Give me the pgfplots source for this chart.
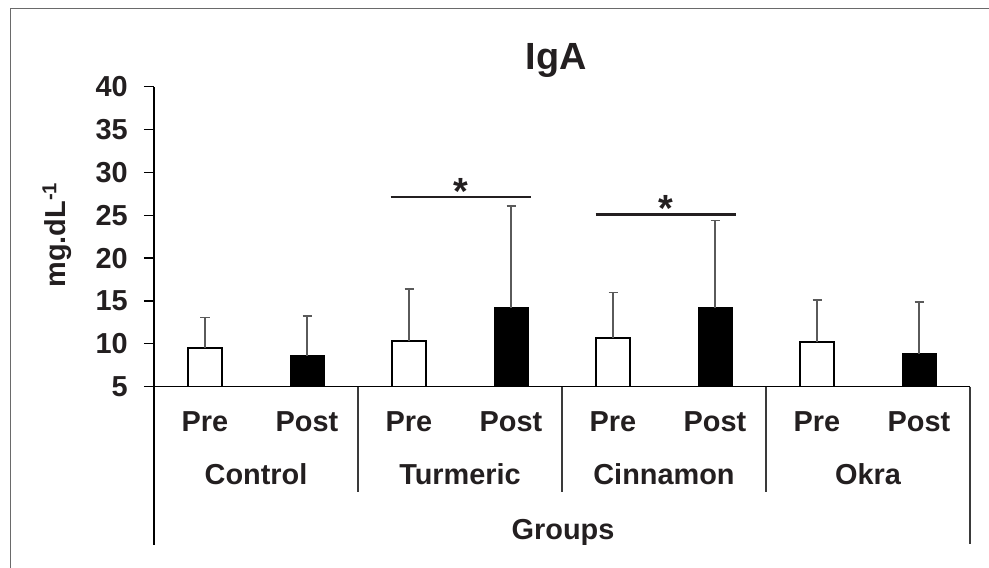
\documentclass[border=0pt]{standalone}
\usepackage{pgfplots}
\pgfplotsset{compat=1.18}
\usepackage{fontspec}
\setmainfont{Liberation Sans}
\definecolor{txt}{HTML}{231F20}
\definecolor{errc}{HTML}{5A5A5A}
\definecolor{sepc}{HTML}{3A3A3A}
\definecolor{framec}{HTML}{6A6A6A}
\newcommand{\lbl}{\fontsize{29}{32}\selectfont\bfseries}
\begin{document}
\begin{tikzpicture}[x=1bp,y=1bp]
\useasboundingbox (-154,-181.3) rectangle (835,386.7);
% outer frame
\draw[framec, line width=1.5bp] (-143.3,-181.3) -- (-143.3,378.4) -- (835,378.4);
\begin{axis}[
  at={(0,0)}, anchor=south west, scale only axis,
  width=816bp, height=300bp,
  xmin=0, xmax=8, ymin=5, ymax=40,
  axis y line*=left, axis x line*=bottom,
  axis line style={-, black, line width=1.3bp},
  xtick=\empty, ytick={5,10,...,40},
  tick align=outside, major tick length=10bp,
  tick style={black, line width=1.3bp},
  /pgf/number format/assume math mode=true,
  yticklabel style={font=\lbl, text=txt, anchor=east, inner sep=0pt, xshift=-16bp},
  ybar, bar width=34bp, bar shift=0pt,
  error bars/y dir=plus, error bars/y explicit,
  error bars/error bar style={errc, line width=1.6bp},
  error bars/error mark options={rotate=90, mark size=4.5bp, line width=1.6bp, errc},
]
% Pre
\addplot[draw=black, fill=white, line width=2.2bp] coordinates {
  (0.5,9.48) +- (0,3.57)
  (2.5,10.30) +- (0,6.10)
  (4.5,10.65) +- (0,5.36)
  (6.5,10.25) +- (0,4.83)
};
% Post
\addplot[draw=black, fill=black, line width=1bp] coordinates {
  (1.5,8.62) +- (0,4.66)
  (3.5,14.22) +- (0,11.86)
  (5.5,14.22) +- (0,10.19)
  (7.5,8.82) +- (0,6.06)
};
% significance bars
\draw[txt, line width=2.7bp] (axis cs:2.32,27.13) -- (axis cs:3.70,27.13);
\node[anchor=base, font=\fontsize{38}{40}\selectfont\bfseries, text=txt, inner sep=0pt, yshift=-7bp] at (axis cs:3.01,27.13) {*};
\draw[txt, line width=2.7bp] (axis cs:4.33,25.11) -- (axis cs:5.71,25.11);
\node[anchor=base, font=\fontsize{38}{40}\selectfont\bfseries, text=txt, inner sep=0pt, yshift=-7bp] at (axis cs:5.02,25.11) {*};
\end{axis}
% category axis extensions
\draw[black, line width=1.3bp] (0,0) -- (0,-158.3);
\draw[sepc, line width=1.3bp] (816,0) -- (816,-157.3);
\foreach \xx in {204,408,612}{
  \draw[sepc, line width=1.3bp] (\xx,0) -- (\xx,-105);
}
\foreach \xx/\t in {51/Pre,153/Post,255/Pre,357/Post,459/Pre,561/Post,663/Pre,765/Post}{
  \node[anchor=base, font=\lbl, text=txt, inner sep=0pt] at (\xx,-45) {\t};
}
\foreach \xx/\t in {102/Control,306/Turmeric,510/Cinnamon,714/Okra}{
  \node[anchor=base, font=\lbl, text=txt, inner sep=0pt] at (\xx,-98.3) {\t};
}
\node[anchor=base, font=\lbl, text=txt, inner sep=0pt] at (409,-153.3) {Groups};
% title
\node[anchor=base, font=\fontsize{38}{42}\selectfont\bfseries, text=txt, inner sep=0pt] at (402,316.7) {IgA};
% y label
\node[rotate=90, anchor=center, font=\lbl, text=txt, inner sep=0pt] at (-97,151.7) {mg.dL\textsuperscript{-1}};
\end{tikzpicture}
\end{document}
